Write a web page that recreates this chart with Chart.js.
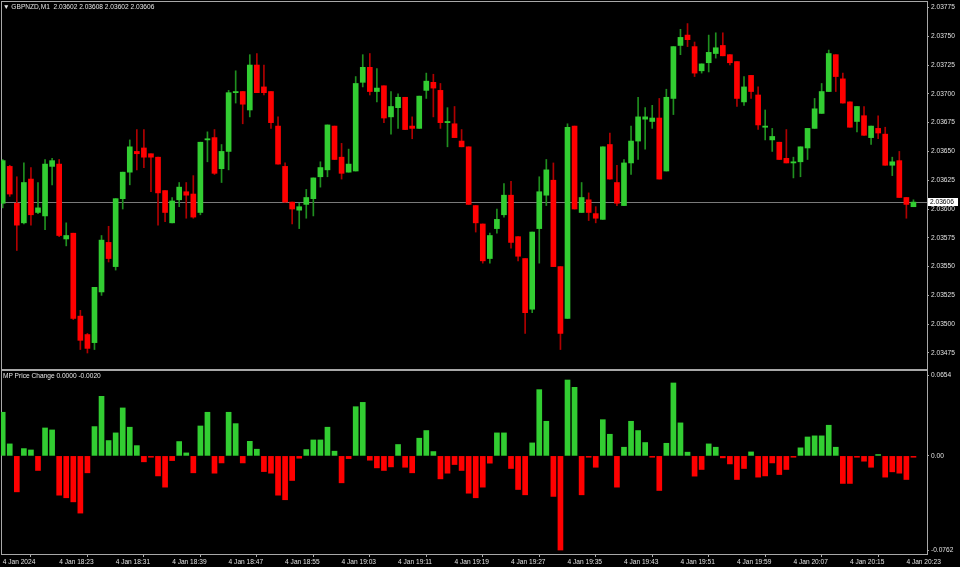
<!DOCTYPE html>
<html>
<head>
<meta charset="utf-8">
<script src="https://cdn.jsdelivr.net/npm/chart.js@4.4.1/dist/chart.umd.min.js"></script>
<style>
  html, body { margin: 0; padding: 0; background: #000; }
  #wrap { position: relative; width: 960px; height: 567px; background: #000; overflow: hidden; }
  canvas { position: absolute; left: 0; }
  #priceChart { top: 0; }
  #changeChart { top: 370px; }
  .caption { position: absolute; color: #e6e6e6; font: 6.6px "Liberation Sans", Arial, sans-serif; white-space: pre; line-height: 8px; }
</style>
</head>
<body>
<div id="wrap">
  <canvas id="priceChart" width="960" height="371"></canvas>
  <canvas id="changeChart" width="960" height="197"></canvas>
  <div class="caption" style="left:3px;top:3px">▼ GBPNZD,M1  2.03602 2.03608 2.03602 2.03606</div>
  <div class="caption" style="left:3px;top:372px">MP Price Change 0.0000 -0.0020</div>
</div>
<script>
// GBPNZD M1 bars, 4 Jan 2024 18:15 .. 20:24 (one bar per minute, index = bar number)
const opens = [
  2.03605, 2.03637, 2.03605, 2.03588, 2.03626, 2.03597, 2.03594, 2.03637, 2.03639, 2.03574,
  2.03579, 2.03507, 2.03491, 2.03484, 2.03528, 2.03571, 2.03550, 2.03609, 2.03632, 2.03650,
  2.03653, 2.03648, 2.03645, 2.03616, 2.03588, 2.03608, 2.03615, 2.03613, 2.03597, 2.03660,
  2.03662, 2.03635, 2.03650, 2.03701, 2.03702, 2.03686, 2.03725, 2.03706, 2.03702, 2.03672,
  2.03637, 2.03606, 2.03599, 2.03604, 2.03609, 2.03628, 2.03634, 2.03672, 2.03645, 2.03632,
  2.03633, 2.03710, 2.03723, 2.03702, 2.03707, 2.03680, 2.03688, 2.03697, 2.03672, 2.03670,
  2.03703, 2.03710, 2.03703, 2.03675, 2.03674, 2.03659, 2.03654, 2.03603, 2.03587, 2.03557,
  2.03583, 2.03595, 2.03612, 2.03576, 2.03557, 2.03513, 2.03583, 2.03612, 2.03625, 2.03550,
  2.03505, 2.03672, 2.03597, 2.03608, 2.03596, 2.03591, 2.03656, 2.03623, 2.03603, 2.03640,
  2.03659, 2.03678, 2.03676, 2.03679, 2.03633, 2.03696, 2.03742, 2.03751, 2.03741, 2.03720,
  2.03727, 2.03735, 2.03742, 2.03734, 2.03728, 2.03693, 2.03716, 2.03699, 2.03671, 2.03660,
  2.03658, 2.03644, 2.03640, 2.03641, 2.03653, 2.03670, 2.03683, 2.03702, 2.03734, 2.03713,
  2.03693, 2.03676, 2.03681, 2.03662, 2.03670, 2.03665, 2.03638, 2.03642, 2.03610, 2.03602
];
const highs = [
  2.03643, 2.03638, 2.03628, 2.03640, 2.03636, 2.03623, 2.03643, 2.03644, 2.03643, 2.03588,
  2.03579, 2.03512, 2.03492, 2.03532, 2.03577, 2.03585, 2.03609, 2.03632, 2.03660, 2.03669,
  2.03669, 2.03648, 2.03645, 2.03616, 2.03610, 2.03623, 2.03623, 2.03629, 2.03658, 2.03667,
  2.03669, 2.03656, 2.03703, 2.03720, 2.03702, 2.03734, 2.03735, 2.03725, 2.03702, 2.03680,
  2.03640, 2.03606, 2.03605, 2.03617, 2.03627, 2.03641, 2.03673, 2.03672, 2.03657, 2.03652,
  2.03715, 2.03734, 2.03735, 2.03722, 2.03707, 2.03702, 2.03700, 2.03697, 2.03680, 2.03698,
  2.03718, 2.03717, 2.03709, 2.03688, 2.03689, 2.03669, 2.03654, 2.03603, 2.03587, 2.03579,
  2.03600, 2.03622, 2.03624, 2.03576, 2.03557, 2.03580, 2.03628, 2.03643, 2.03640, 2.03550,
  2.03674, 2.03672, 2.03623, 2.03614, 2.03602, 2.03654, 2.03666, 2.03638, 2.03643, 2.03672,
  2.03697, 2.03688, 2.03690, 2.03696, 2.03704, 2.03741, 2.03756, 2.03761, 2.03745, 2.03726,
  2.03751, 2.03753, 2.03753, 2.03734, 2.03728, 2.03715, 2.03716, 2.03706, 2.03686, 2.03670,
  2.03658, 2.03669, 2.03645, 2.03654, 2.03670, 2.03696, 2.03709, 2.03738, 2.03734, 2.03718,
  2.03693, 2.03689, 2.03689, 2.03672, 2.03681, 2.03671, 2.03645, 2.03650, 2.03610, 2.03608
];
const lows = [
  2.03601, 2.03611, 2.03564, 2.03587, 2.03586, 2.03596, 2.03582, 2.03621, 2.03576, 2.03568,
  2.03504, 2.03478, 2.03475, 2.03478, 2.03525, 2.03554, 2.03547, 2.03600, 2.03621, 2.03634,
  2.03636, 2.03615, 2.03586, 2.03589, 2.03588, 2.03602, 2.03592, 2.03592, 2.03595, 2.03641,
  2.03630, 2.03623, 2.03634, 2.03692, 2.03674, 2.03680, 2.03701, 2.03699, 2.03670, 2.03639,
  2.03606, 2.03587, 2.03583, 2.03592, 2.03594, 2.03619, 2.03628, 2.03643, 2.03626, 2.03632,
  2.03633, 2.03706, 2.03699, 2.03693, 2.03675, 2.03665, 2.03670, 2.03669, 2.03661, 2.03670,
  2.03696, 2.03680, 2.03670, 2.03654, 2.03662, 2.03654, 2.03604, 2.03580, 2.03553, 2.03553,
  2.03579, 2.03593, 2.03566, 2.03555, 2.03492, 2.03510, 2.03553, 2.03603, 2.03550, 2.03478,
  2.03505, 2.03600, 2.03597, 2.03590, 2.03588, 2.03591, 2.03626, 2.03603, 2.03603, 2.03630,
  2.03643, 2.03652, 2.03670, 2.03626, 2.03633, 2.03682, 2.03734, 2.03741, 2.03715, 2.03718,
  2.03719, 2.03731, 2.03733, 2.03725, 2.03689, 2.03690, 2.03696, 2.03669, 2.03660, 2.03650,
  2.03643, 2.03640, 2.03627, 2.03628, 2.03643, 2.03670, 2.03683, 2.03702, 2.03702, 2.03692,
  2.03671, 2.03667, 2.03664, 2.03656, 2.03661, 2.03638, 2.03629, 2.03610, 2.03592, 2.03602
];
const closes = [
  2.03642, 2.03613, 2.03586, 2.03623, 2.03595, 2.03601, 2.03639, 2.03642, 2.03577, 2.03577,
  2.03505, 2.03486, 2.03479, 2.03532, 2.03573, 2.03557, 2.03609, 2.03632, 2.03654, 2.03648,
  2.03645, 2.03645, 2.03614, 2.03597, 2.03607, 2.03619, 2.03612, 2.03593, 2.03658, 2.03661,
  2.03631, 2.03650, 2.03701, 2.03702, 2.03691, 2.03725, 2.03701, 2.03701, 2.03675, 2.03639,
  2.03606, 2.03600, 2.03602, 2.03610, 2.03627, 2.03636, 2.03673, 2.03643, 2.03631, 2.03639,
  2.03709, 2.03723, 2.03702, 2.03705, 2.03679, 2.03689, 2.03697, 2.03669, 2.03670, 2.03698,
  2.03711, 2.03705, 2.03675, 2.03676, 2.03662, 2.03654, 2.03604, 2.03588, 2.03555, 2.03577,
  2.03591, 2.03612, 2.03571, 2.03559, 2.03510, 2.03580, 2.03615, 2.03634, 2.03550, 2.03492,
  2.03671, 2.03600, 2.03610, 2.03597, 2.03592, 2.03654, 2.03626, 2.03605, 2.03640, 2.03659,
  2.03680, 2.03680, 2.03679, 2.03626, 2.03697, 2.03741, 2.03749, 2.03747, 2.03718, 2.03726,
  2.03736, 2.03740, 2.03733, 2.03727, 2.03696, 2.03706, 2.03702, 2.03673, 2.03672, 2.03663,
  2.03643, 2.03640, 2.03641, 2.03654, 2.03670, 2.03687, 2.03702, 2.03735, 2.03715, 2.03692,
  2.03671, 2.03689, 2.03664, 2.03672, 2.03666, 2.03638, 2.03641, 2.03610, 2.03604, 2.03606
];

// MP Price Change histogram, one value per bar
const priceChange = [
  0.0353, 0.0097, -0.0291, 0.0059, 0.0048, -0.0118, 0.0226, 0.0210, -0.0318, -0.0339,
  -0.0372, -0.0463, -0.0137, 0.0237, 0.0482, 0.0124, 0.0186, 0.0388, 0.0232, 0.0083,
  -0.0048, -0.0011, -0.0162, -0.0253, -0.0038, 0.0116, 0.0024, -0.0137, 0.0242, 0.0353,
  -0.0140, -0.0057, 0.0353, 0.0261, -0.0057, 0.0118, 0.0054, -0.0127, -0.0140, -0.0318,
  -0.0355, -0.0199, -0.0019, 0.0051, 0.0129, 0.0129, 0.0232, 0.0038, -0.0218, -0.0022,
  0.0398, 0.0433, -0.0035, -0.0097, -0.0118, -0.0089, 0.0092, -0.0092, -0.0137, 0.0143,
  0.0205, 0.0035, -0.0186, -0.0140, -0.0070, -0.0118, -0.0302, -0.0339, -0.0253, -0.0059,
  0.0186, 0.0186, -0.0102, -0.0272, -0.0315, 0.0105, 0.0536, 0.0280, -0.0328, -0.0762,
  0.0614, 0.0555, -0.0315, -0.0011, -0.0092, 0.0293, 0.0175, -0.0253, 0.0070, 0.0280,
  0.0205, 0.0108, -0.0011, -0.0280, 0.0102, 0.0590, 0.0267, 0.0030, -0.0164, -0.0110,
  0.0097, 0.0070, -0.0016, -0.0065, -0.0191, -0.0102, 0.0032, -0.0172, -0.0162, -0.0057,
  -0.0151, -0.0110, -0.0011, 0.0065, 0.0153, 0.0162, 0.0162, 0.0248, 0.0070, -0.0223,
  -0.0223, -0.0011, -0.0043, -0.0092, 0.0011, -0.0172, -0.0129, -0.0140, -0.0191, -0.0011
];

const priceTicks = [2.03475, 2.03500, 2.03525, 2.03550, 2.03575, 2.03600, 2.03625,
  2.03650, 2.03675, 2.03700, 2.03725, 2.03750, 2.03775];
const changeTicks = [-0.0762, 0, 0.0654];
const changeTickLabels = ['-0.0762', '0.00', '0.0654'];
const timeTickBars = [0, 8, 16, 24, 32, 40, 48, 56, 64, 72, 80, 88, 96, 104, 112, 120, 128];
const timeTickLabels = ['4 Jan 2024', '4 Jan 18:23', '4 Jan 18:31', '4 Jan 18:39', '4 Jan 18:47',
  '4 Jan 18:55', '4 Jan 19:03', '4 Jan 19:11', '4 Jan 19:19', '4 Jan 19:27', '4 Jan 19:35',
  '4 Jan 19:43', '4 Jan 19:51', '4 Jan 19:59', '4 Jan 20:07', '4 Jan 20:15', '4 Jan 20:23'];

const upColor = '#32cd32';
const downColor = '#ff0000';
const upWick = '#1f8f1f';
const downWick = '#b00000';
const frameColor = '#a8a8a8';
const textColor = '#e0e0e0';
const font = { family: '"Liberation Sans", Arial, sans-serif', size: 6.6 };

Chart.defaults.font.family = font.family;
Chart.defaults.font.size = font.size;
Chart.defaults.animation = false;

// same bar placement on both panels
const xMin = -0.24;
const xMax = 130.92;
const axisWidth = 33;

function fixedWidth(scale) {
  scale.width = axisWidth;
  scale.paddingTop = 0;
  scale.paddingBottom = 0;
}

// grey box round the plot area
const framePlugin = {
  id: 'frame',
  beforeDatasetsDraw(chart) {
    const { ctx, chartArea: a } = chart;
    ctx.save();
    ctx.strokeStyle = frameColor;
    ctx.lineWidth = 1;
    ctx.strokeRect(a.left + 0.5, a.top + 0.5, a.right - a.left, a.bottom - a.top);
    ctx.restore();
  }
};

// bid line and the price tag on the axis
const bidPlugin = {
  id: 'bid',
  beforeDatasetsDraw(chart) {
    const { ctx, chartArea: a } = chart;
    const y = Math.round(chart.scales.y.getPixelForValue(closes[closes.length - 1])) + 0.5;
    ctx.save();
    ctx.strokeStyle = '#7a7a7a';
    ctx.lineWidth = 1;
    ctx.beginPath();
    ctx.moveTo(a.left, y);
    ctx.lineTo(a.right, y);
    ctx.stroke();
    ctx.restore();
  },
  afterDraw(chart) {
    const { ctx, chartArea: a } = chart;
    const bid = closes[closes.length - 1];
    const y = Math.round(chart.scales.y.getPixelForValue(bid));
    ctx.save();
    ctx.fillStyle = '#ffffff';
    ctx.fillRect(a.right + 1, y - 4, 30, 8);
    ctx.fillStyle = '#000000';
    ctx.font = font.size + 'px ' + font.family;
    ctx.textBaseline = 'middle';
    ctx.fillText(bid.toFixed(5), a.right + 3, y + 0.5);
    ctx.restore();
  }
};

const bodyColors = closes.map((c, i) => c >= opens[i] ? upColor : downColor);
const wickColors = closes.map((c, i) => c >= opens[i] ? upWick : downWick);

new Chart(document.getElementById('priceChart'), {
  type: 'bar',
  data: {
    datasets: [{
      label: 'Wick',
      data: lows.map((l, i) => ({ x: i, y: [l, highs[i]] })),
      backgroundColor: wickColors,
      barThickness: 1,
      grouped: false,
      order: 2
    }, {
      label: 'Body',
      data: opens.map((o, i) => ({ x: i, y: [o, closes[i]] })),
      backgroundColor: bodyColors,
      barThickness: 5,
      minBarLength: 1,
      grouped: false,
      order: 1
    }]
  },
  options: {
    responsive: false,
    layout: { autoPadding: false, padding: { left: 1, top: 1, right: 0, bottom: 2 } },
    plugins: { legend: { display: false }, tooltip: { enabled: false } },
    scales: {
      x: { type: 'linear', min: xMin, max: xMax, offset: false, bounds: 'data', display: false },
      y: {
        position: 'right',
        min: 2.034611,
        max: 2.037806,
        bounds: 'data',
        afterFit: fixedWidth,
        afterBuildTicks: (scale) => { scale.ticks = priceTicks.map(v => ({ value: v })); },
        ticks: { callback: (v) => v.toFixed(5), color: textColor, padding: 2, font: font },
        grid: { drawOnChartArea: false, color: frameColor, tickLength: 2 },
        border: { color: frameColor }
      }
    }
  },
  plugins: [framePlugin, bidPlugin]
});

new Chart(document.getElementById('changeChart'), {
  type: 'bar',
  data: {
    datasets: [{
      label: 'MP Price Change',
      data: priceChange.map((v, i) => ({ x: i, y: v })),
      backgroundColor: priceChange.map(v => v >= 0 ? upColor : downColor),
      barThickness: 5,
      grouped: false
    }]
  },
  options: {
    responsive: false,
    layout: { autoPadding: false, padding: { left: 1, top: 0, right: 0, bottom: 0 } },
    plugins: { legend: { display: false }, tooltip: { enabled: false } },
    scales: {
      x: {
        type: 'linear',
        min: xMin,
        max: xMax,
        offset: false,
        bounds: 'data',
        afterFit: (scale) => { scale.height = 13; scale.paddingLeft = 0; scale.paddingRight = 0; },
        afterBuildTicks: (scale) => { scale.ticks = timeTickBars.map(v => ({ value: v })); },
        ticks: {
          autoSkip: false,
          maxRotation: 0,
          align: 'start',
          padding: 1,
          color: textColor,
          font: font,
          callback: (v) => timeTickLabels[timeTickBars.indexOf(v)]
        },
        grid: { drawOnChartArea: false, color: frameColor, tickLength: 3 },
        border: { color: frameColor }
      },
      y: {
        position: 'right',
        min: -0.0794,
        max: 0.0695,
        bounds: 'data',
        afterFit: fixedWidth,
        afterBuildTicks: (scale) => { scale.ticks = changeTicks.map(v => ({ value: v })); },
        ticks: {
          color: textColor,
          padding: 2,
          font: font,
          callback: (v) => changeTickLabels[changeTicks.indexOf(v)]
        },
        grid: { drawOnChartArea: false, color: frameColor, tickLength: 2 },
        border: { color: frameColor }
      }
    }
  },
  plugins: [framePlugin]
});
</script>
</body>
</html>
